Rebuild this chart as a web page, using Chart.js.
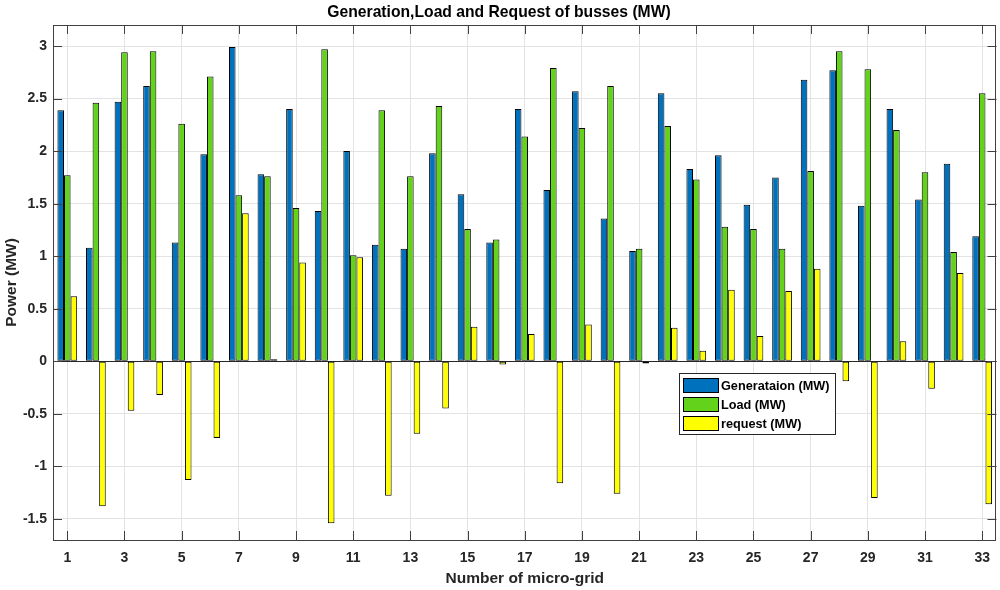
<!DOCTYPE html>
<html>
<head>
<meta charset="utf-8">
<script src="https://cdn.jsdelivr.net/npm/chart.js@4"></script>
<style>
  html, body { margin: 0; padding: 0; background: #fff; }
  #wrap { width: 1000px; height: 590px; }
</style>
</head>
<body>
<div id="wrap"><canvas id="chart" width="1000" height="590"></canvas></div>
<script>
// values
const grids = Array.from({ length: 33 }, (_, i) => String(i + 1));
const generation = [2.39, 1.08, 2.47, 2.62, 1.13, 1.97, 2.99, 1.78, 2.40, 1.43, 2.00, 1.11, 1.07, 1.98, 1.59, 1.13, 2.40,
    1.63, 2.57, 1.36, 1.05, 2.55, 1.83, 1.96, 1.49, 1.75, 2.68, 2.77, 1.48, 2.40, 1.54, 1.88, 1.19];
const load = [1.77, 2.46, 2.94, 2.95, 2.26, 2.71, 1.58, 1.76, 1.46, 2.97, 1.01, 2.39, 1.76, 2.43, 1.26, 1.16, 2.14,
    2.79, 2.22, 2.62, 1.07, 2.24, 1.73, 1.28, 1.26, 1.07, 1.81, 2.95, 2.78, 2.20, 1.80, 1.04, 2.55];
const request = [0.62, -1.38, -0.47, -0.32, -1.13, -0.73, 1.41, 0.02, 0.94, -1.54, 0.99, -1.28, -0.69, -0.45, 0.33, -0.03, 0.26,
    -1.16, 0.35, -1.26, -0.02, 0.32, 0.10, 0.68, 0.24, 0.67, 0.88, -0.19, -1.30, 0.19, -0.26, 0.84, -1.36];
const yTicks = [-1.5, -1, -0.5, 0, 0.5, 1, 1.5, 2, 2.5, 3];

const seriesNames = ['Generataion (MW)', 'Load (MW)', 'request (MW)'];
const seriesColors = ['#0072bd', '#62d21a', '#ffff00'];

const FONT = '"Liberation Sans", Arial, sans-serif';
const AXIS_COLOR = '#404040';

// box, tick marks, zero baseline and the in-plot legend (MATLAB look)
const matlabFrame = {
    id: 'matlabFrame',
    beforeDatasetsDraw(chart) {
        const { ctx, chartArea: a, scales: { y } } = chart;
        const y0 = Math.round(y.getPixelForValue(0)) + 0.5;
        ctx.save();
        ctx.strokeStyle = '#262626';
        ctx.lineWidth = 1;
        ctx.beginPath();
        ctx.moveTo(a.left, y0);
        ctx.lineTo(a.right, y0);
        ctx.stroke();
        ctx.restore();
    },
    afterDraw(chart) {
        const { ctx, chartArea: a, scales: { x, y } } = chart;
        const len = 9;
        ctx.save();
        ctx.strokeStyle = AXIS_COLOR;
        ctx.lineWidth = 1;
        ctx.beginPath();
        for (let i = 0; i < grids.length; i += 2) {
            const px = Math.round(x.getPixelForValue(i)) + 0.5;
            ctx.moveTo(px, a.bottom); ctx.lineTo(px, a.bottom - len);
            ctx.moveTo(px, a.top); ctx.lineTo(px, a.top + len);
        }
        yTicks.forEach(v => {
            const py = Math.round(y.getPixelForValue(v)) + 0.5;
            ctx.moveTo(a.left, py); ctx.lineTo(a.left + len, py);
            ctx.moveTo(a.right, py); ctx.lineTo(a.right - len, py);
        });
        ctx.stroke();
        ctx.strokeRect(Math.round(a.left) + 0.5, Math.round(a.top) + 0.5,
            Math.round(a.right - a.left) - 1, Math.round(a.bottom - a.top));

        // legend box
        const lx = a.left + 626, ly = a.top + 348, lw = 156, lh = 61;
        ctx.fillStyle = '#fff';
        ctx.fillRect(lx, ly, lw, lh);
        ctx.strokeStyle = '#262626';
        ctx.strokeRect(lx + 0.5, ly + 0.5, lw, lh);
        ctx.font = 'bold 12.7px ' + FONT;
        ctx.textBaseline = 'middle';
        seriesNames.forEach((name, i) => {
            const cy = ly + 12 + i * 19;
            ctx.fillStyle = seriesColors[i];
            ctx.fillRect(lx + 4, cy - 7, 35, 14);
            ctx.strokeStyle = '#000';
            ctx.strokeRect(lx + 4.5, cy - 6.5, 35, 14);
            ctx.fillStyle = '#000';
            ctx.fillText(name, lx + 42, cy + 1);
        });
        ctx.restore();
    }
};

const ctx = document.getElementById('chart').getContext('2d');
new Chart(ctx, {
    type: 'bar',
    data: {
        labels: grids,
        datasets: [generation, load, request].map((vals, i) => ({
            label: seriesNames[i],
            data: vals,
            backgroundColor: seriesColors[i],
            borderColor: '#000',
            borderWidth: 1,
            borderSkipped: false,
            categoryPercentage: 0.69,
            barPercentage: 1
        }))
    },
    options: {
        responsive: false,
        animation: false,
        layout: { padding: { left: 0, right: 2, top: 0, bottom: 0 } },
        plugins: {
            legend: { display: false },
            tooltip: { enabled: false },
            title: {
                display: true,
                text: 'Generation,Load and Request of busses (MW)',
                color: '#000',
                font: { family: FONT, size: 15.7, weight: 'bold', lineHeight: 1.2 },
                padding: { top: 3.5, bottom: 2.66 }
            }
        },
        scales: {
            x: {
                offset: true,
                grid: {
                    offset: false,
                    drawTicks: false,
                    color: c => (c.index % 2 === 0 ? '#e3e3e3' : 'rgba(0,0,0,0)')
                },
                border: { display: false },
                ticks: {
                    autoSkip: false,
                    maxRotation: 0,
                    padding: 10,
                    color: '#262626',
                    font: { family: FONT, size: 14, weight: 'bold' },
                    callback: (v, i) => (i % 2 === 0 ? grids[i] : '')
                },
                title: {
                    display: true,
                    text: 'Number of micro-grid',
                    color: '#262626',
                    font: { family: FONT, size: 15.5, weight: 'bold', lineHeight: 1.2 },
                    padding: { top: 0, bottom: 2 }
                },
                afterFit: s => { s.height = 50; }
            },
            y: {
                min: -1.7,
                max: 3.2,
                afterBuildTicks: s => { s.ticks = yTicks.map(v => ({ value: v })); },
                grid: { drawTicks: false, color: '#e3e3e3' },
                border: { display: false },
                ticks: {
                    padding: 6,
                    color: '#262626',
                    font: { family: FONT, size: 14, weight: 'bold' },
                    callback: v => String(v)
                },
                title: {
                    display: true,
                    text: 'Power (MW)',
                    color: '#262626',
                    font: { family: FONT, size: 15.5, weight: 'bold', lineHeight: 1.2 },
                    padding: { top: 2, bottom: 0 }
                },
                afterFit: s => { s.width = 53; }
            }
        }
    },
    plugins: [matlabFrame]
});
</script>
</body>
</html>
